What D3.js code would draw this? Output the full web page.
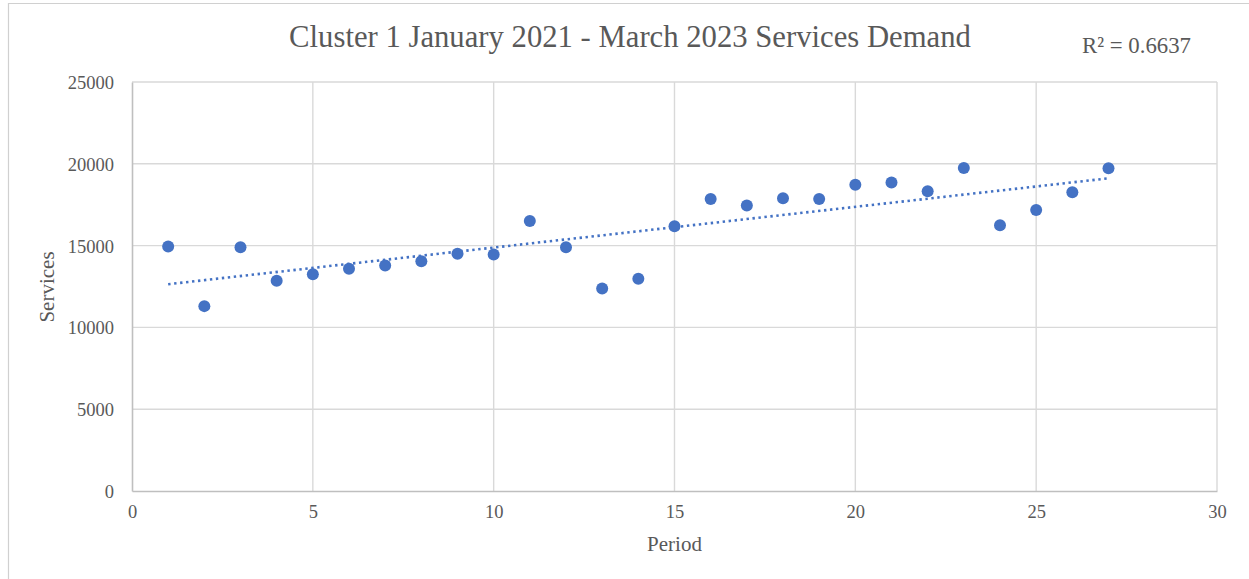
<!DOCTYPE html>
<html>
<head>
<meta charset="utf-8">
<script src="https://cdn.jsdelivr.net/npm/d3@7"></script>
<style>
  html, body { margin: 0; padding: 0; background: #fff; }
  svg { display: block; }
  text { font-family: "Liberation Serif", "Times New Roman", serif; fill: #595959; }
</style>
</head>
<body>
<svg id="chart" width="1249" height="579"></svg>
<script>
// Monthly services demand, periods 1..27 (Jan 2021 - Mar 2023)
const periods = [1, 2, 3, 4, 5, 6, 7, 8, 9, 10, 11, 12, 13, 14, 15, 16, 17, 18, 19, 20, 21, 22, 23, 24, 25, 26, 27];
const services = [14950, 11300, 14900, 12850, 13250, 13580, 13780, 14050, 14500, 14450, 16500, 14900, 12380, 12980, 16180,
                  17850, 17450, 17900, 17850, 18720, 18850, 18320, 19750, 16250, 17180, 18260, 19730];
const xTicks = [0, 5, 10, 15, 20, 25, 30];
const yTicks = [0, 5000, 10000, 15000, 20000, 25000];
const titleText = "Cluster 1 January 2021 - March 2023 Services Demand";
const r2Text = "R² = 0.6637";

const svg = d3.select("#chart");
const plot = { left: 132, right: 1217, top: 82, bottom: 491 };

const x = d3.scaleLinear().domain([0, 30]).range([plot.left, plot.right]);
const y = d3.scaleLinear().domain([0, 25000]).range([plot.bottom, plot.top]);

// chart frame edges (left and top)
svg.append("path")
  .attr("d", "M8.5,579 V3.5 H1249")
  .attr("fill", "none").attr("stroke", "#d0d0d0").attr("stroke-width", 1.2);

// gridlines
const grid = svg.append("g");
grid.selectAll(".gx").data(xTicks.filter(d => d > 0)).join("line")
  .attr("x1", d => x(d)).attr("x2", d => x(d))
  .attr("y1", plot.top).attr("y2", plot.bottom)
  .attr("stroke", "#d9d9d9").attr("stroke-width", 1.4);
grid.selectAll(".gy").data(yTicks.filter(d => d > 0)).join("line")
  .attr("x1", plot.left).attr("x2", plot.right)
  .attr("y1", d => y(d)).attr("y2", d => y(d))
  .attr("stroke", "#d9d9d9").attr("stroke-width", 1.4);

// axes (no tick marks, just the line and labels)
const xAxis = d3.axisBottom(x).tickValues(xTicks).tickSize(0).tickPadding(14).tickFormat(d3.format("d"));
const yAxis = d3.axisLeft(y).tickValues(yTicks).tickSize(0).tickPadding(18).tickFormat(d3.format("d"));

const gx = svg.append("g").attr("transform", `translate(0,${plot.bottom})`).call(xAxis);
const gy = svg.append("g").attr("transform", `translate(${plot.left},0)`).call(yAxis);
[gx, gy].forEach(g => {
  g.select(".domain").attr("stroke", "#bfbfbf").attr("stroke-width", 1.6);
  g.selectAll("text").style("font-size", "18.5px").attr("fill", "#595959")
    .style("font-family", '"Liberation Serif", "Times New Roman", serif');
});
gy.selectAll("text").attr("dy", "0.35em");

// least-squares trendline
const mx = d3.mean(periods), my = d3.mean(services);
const slope = d3.sum(periods, (p, i) => (p - mx) * (services[i] - my)) / d3.sum(periods, p => (p - mx) ** 2);
const intercept = my - slope * mx;
const x0 = d3.min(periods), x1 = d3.max(periods);
svg.append("line")
  .attr("x1", x(x0)).attr("y1", y(intercept + slope * x0))
  .attr("x2", x(x1)).attr("y2", y(intercept + slope * x1))
  .attr("stroke", "#4472C4").attr("stroke-width", 2.6)
  .attr("stroke-dasharray", "2.4 3.6");

// data points
svg.append("g").selectAll("circle").data(periods).join("circle")
  .attr("cx", d => x(d))
  .attr("cy", (d, i) => y(services[i]))
  .attr("r", 6)
  .attr("fill", "#4472C4");

// title
svg.append("text")
  .attr("x", 630).attr("y", 47)
  .attr("text-anchor", "middle")
  .style("font-size", "30.7px")
  .text(titleText);

// R² label
svg.append("text")
  .attr("x", 1082).attr("y", 53)
  .style("font-size", "22.8px")
  .text(r2Text);

// axis titles
svg.append("text")
  .attr("x", (plot.left + plot.right) / 2).attr("y", 551)
  .attr("text-anchor", "middle")
  .style("font-size", "21px")
  .text("Period");

svg.append("text")
  .attr("transform", `translate(54,287) rotate(-90)`)
  .attr("text-anchor", "middle")
  .style("font-size", "21px")
  .text("Services");
</script>
</body>
</html>
